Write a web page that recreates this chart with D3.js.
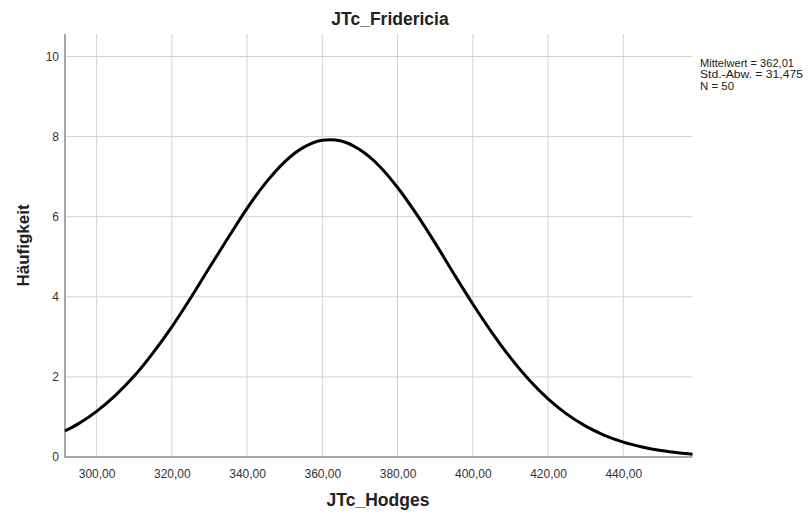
<!DOCTYPE html>
<html>
<head>
<meta charset="utf-8">
<script src="https://cdn.jsdelivr.net/npm/d3@7"></script>
<style>
  html, body { margin: 0; padding: 0; background: #fff; }
  svg { display: block; font-family: "Liberation Sans", Arial, sans-serif; }
</style>
</head>
<body>
<svg id="chart" width="808" height="515"></svg>
<script>
// Normal curve for JTc_Hodges (frequency scale)
const curveX = [291.6, 295, 300, 305, 310, 315, 320, 325, 330, 335, 340, 345, 350, 355, 360, 362,
                365, 370, 375, 380, 385, 390, 395, 400, 405, 410, 415, 420, 425, 430, 435, 440,
                445, 450, 455, 458.4];
const curveY = [0.65, 0.82, 1.14, 1.54, 2.02, 2.60, 3.25, 3.97, 4.73, 5.48, 6.21, 6.85, 7.37, 7.73, 7.91, 7.92,
                7.89, 7.67, 7.28, 6.73, 6.07, 5.34, 4.57, 3.82, 3.12, 2.48, 1.92, 1.45, 1.07, 0.77, 0.54, 0.37,
                0.25, 0.16, 0.10, 0.07];
const xTicks = [300, 320, 340, 360, 380, 400, 420, 440];
const yTicks = [0, 2, 4, 6, 8, 10];
const statLines = ["Mittelwert = 362,01", "Std.-Abw. = 31,475", "N = 50"];
const statWidths = [94, 103, 34];
const chartTitle = "JTc_Fridericia";
const xTitle = "JTc_Hodges";
const yTitle = "Häufigkeit";

const svg = d3.select("#chart");
const plotL = 65, plotR = 692.5, plotT = 34, plotB = 457;

const x = d3.scaleLinear().domain([291.6, 458.4]).range([plotL, plotR]);
const y = d3.scaleLinear().domain([0, 10]).range([plotB, 56.5]);

const fmt = v => d3.format(".2f")(v).replace(".", ",");

// grid
const grid = svg.append("g");
grid.selectAll(".gx").data(xTicks).join("line")
  .attr("x1", d => x(d)).attr("x2", d => x(d))
  .attr("y1", plotT).attr("y2", plotB)
  .attr("stroke", "#d2d2d2").attr("stroke-width", 1);
grid.selectAll(".gy").data(yTicks.filter(d => d > 0)).join("line")
  .attr("x1", plotL).attr("x2", plotR)
  .attr("y1", d => y(d)).attr("y2", d => y(d))
  .attr("stroke", "#d2d2d2").attr("stroke-width", 1);

// x axis
const xAxis = svg.append("g").attr("transform", `translate(0,${plotB})`)
  .call(d3.axisBottom(x).tickValues(xTicks).tickFormat(fmt).tickSize(0).tickPadding(12));
xAxis.select(".domain").remove();
xAxis.selectAll("text").attr("font-size", 12).attr("fill", "#333")
  .attr("font-family", "Liberation Sans, Arial, sans-serif");

// y axis
const yAxis = svg.append("g").attr("transform", `translate(${plotL},0)`)
  .call(d3.axisLeft(y).tickValues(yTicks).tickFormat(d3.format("d")).tickSize(0).tickPadding(6));
yAxis.select(".domain").remove();
yAxis.selectAll("text").attr("font-size", 12).attr("fill", "#333")
  .attr("font-family", "Liberation Sans, Arial, sans-serif");

// axis lines
svg.append("line").attr("x1", plotL).attr("x2", plotL).attr("y1", plotT).attr("y2", plotB + 1)
  .attr("stroke", "#a8a8a8").attr("stroke-width", 2);
svg.append("line").attr("x1", plotL - 1).attr("x2", plotR).attr("y1", plotB).attr("y2", plotB)
  .attr("stroke", "#a8a8a8").attr("stroke-width", 2);

// curve
const pts = curveX.map((v, i) => [v, curveY[i]]);
svg.append("path")
  .datum(pts)
  .attr("d", d3.line().x(d => x(d[0])).y(d => y(d[1])).curve(d3.curveMonotoneX))
  .attr("fill", "none").attr("stroke", "#000").attr("stroke-width", 3)
  .attr("stroke-linecap", "butt");

// titles
svg.append("text").attr("x", 390).attr("y", 25).attr("text-anchor", "middle")
  .attr("font-size", 17.5).attr("font-weight", "bold").attr("fill", "#222").text(chartTitle);
svg.append("text").attr("x", 378).attr("y", 505.5).attr("text-anchor", "middle")
  .attr("font-size", 17.5).attr("font-weight", "bold").attr("fill", "#222").text(xTitle);
svg.append("text").attr("transform", `translate(29,${(plotT + plotB) / 2}) rotate(-90)`)
  .attr("text-anchor", "middle")
  .attr("font-size", 17).attr("font-weight", "bold").attr("fill", "#222").text(yTitle);

// statistics note
svg.append("g").selectAll("text").data(statLines).join("text")
  .attr("x", 700).attr("y", (d, i) => 67 + i * 11.3)
  .attr("font-size", 11).attr("fill", "#222")
  .attr("textLength", (d, i) => statWidths[i]).attr("lengthAdjust", "spacingAndGlyphs")
  .text(d => d);
</script>
</body>
</html>
